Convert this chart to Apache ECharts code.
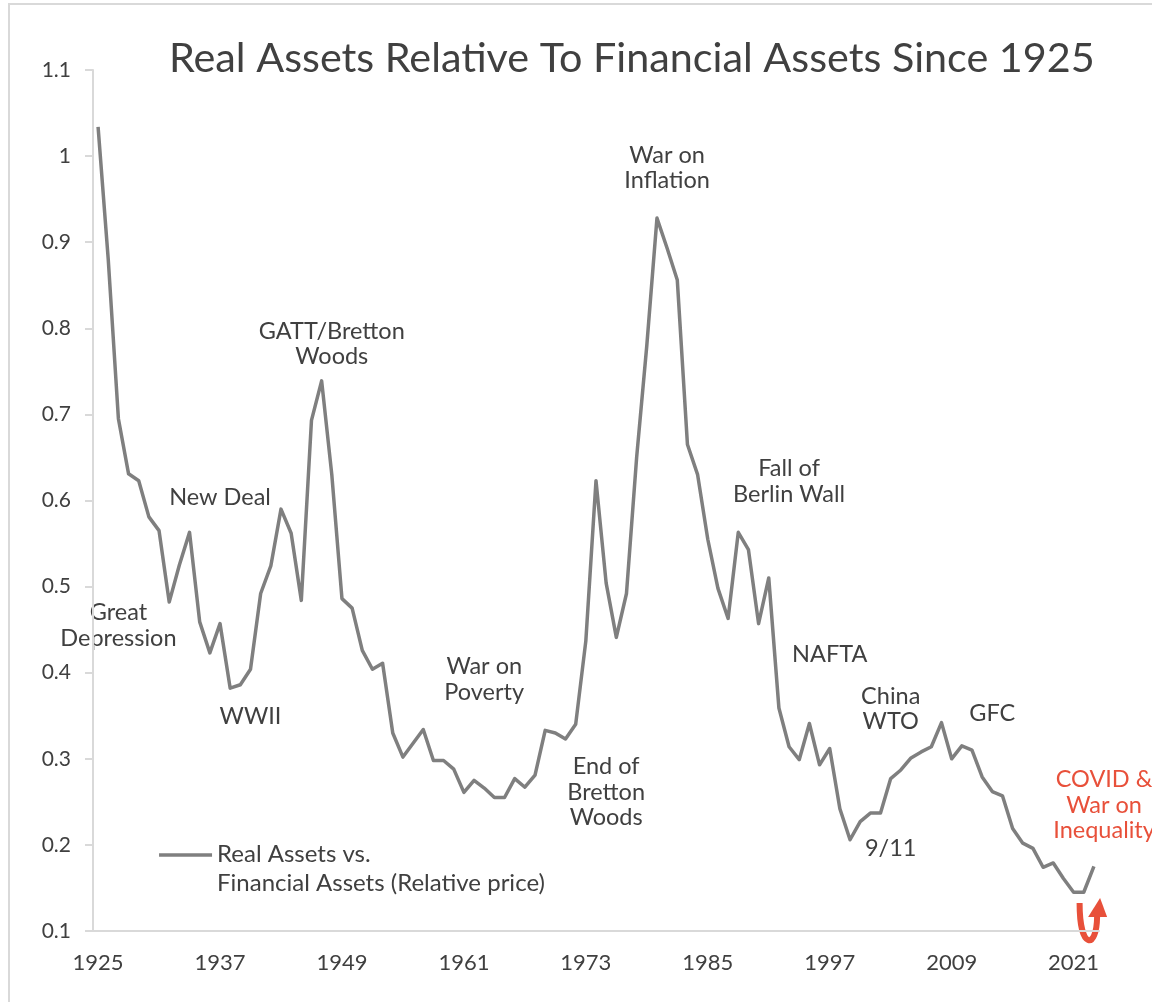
<!DOCTYPE html>
<html>
<head>
<meta charset="utf-8">
<title>Real Assets Relative To Financial Assets Since 1925</title>
<script src="https://cdn.jsdelivr.net/npm/echarts@6/dist/echarts.min.js"></script>
<style>
  html, body { margin: 0; padding: 0; background: #fff; }
  #chart { width: 1152px; height: 1002px; }
</style>
</head>
<body>
<div id="chart"></div>
<script>
// annual observations, 1925 - 2023
const years = [
  '1925', '1926', '1927', '1928', '1929', '1930', '1931', '1932', '1933', '1934',
  '1935', '1936', '1937', '1938', '1939', '1940', '1941', '1942', '1943', '1944',
  '1945', '1946', '1947', '1948', '1949', '1950', '1951', '1952', '1953', '1954',
  '1955', '1956', '1957', '1958', '1959', '1960', '1961', '1962', '1963', '1964',
  '1965', '1966', '1967', '1968', '1969', '1970', '1971', '1972', '1973', '1974',
  '1975', '1976', '1977', '1978', '1979', '1980', '1981', '1982', '1983', '1984',
  '1985', '1986', '1987', '1988', '1989', '1990', '1991', '1992', '1993', '1994',
  '1995', '1996', '1997', '1998', '1999', '2000', '2001', '2002', '2003', '2004',
  '2005', '2006', '2007', '2008', '2009', '2010', '2011', '2012', '2013', '2014',
  '2015', '2016', '2017', '2018', '2019', '2020', '2021', '2022', '2023'
]

// real assets vs financial assets (relative price)
const relativePrice = [
  1.034, 0.880, 0.695, 0.631, 0.623, 0.581, 0.565, 0.482, 0.525, 0.563,
  0.459, 0.423, 0.457, 0.382, 0.386, 0.404, 0.492, 0.524, 0.590, 0.562,
  0.484, 0.693, 0.739, 0.630, 0.486, 0.475, 0.426, 0.404, 0.411, 0.330,
  0.302, 0.318, 0.334, 0.298, 0.298, 0.288, 0.261, 0.275, 0.266, 0.255,
  0.255, 0.277, 0.267, 0.281, 0.333, 0.330, 0.323, 0.340, 0.437, 0.623,
  0.504, 0.441, 0.492, 0.650, 0.780, 0.928, 0.893, 0.856, 0.665, 0.630,
  0.555, 0.498, 0.463, 0.563, 0.543, 0.457, 0.510, 0.359, 0.314, 0.299,
  0.341, 0.293, 0.312, 0.242, 0.206, 0.227, 0.237, 0.237, 0.277, 0.287,
  0.301, 0.308, 0.314, 0.342, 0.300, 0.315, 0.310, 0.279, 0.262, 0.257,
  0.219, 0.202, 0.196, 0.174, 0.179, 0.161, 0.145, 0.145, 0.175
]

// event labels, placed in data space (year, value)
const eventNames = [
  'Great\nDepression', 'New Deal', 'WWII', 'GATT/Bretton\nWoods', 'War on\nPoverty',
  'End of\nBretton\nWoods', 'War on\nInflation', 'Fall of\nBerlin Wall', 'NAFTA',
  'China\nWTO', 'GFC', '9/11', 'COVID &\nWar on\nInequality'
]
const eventYears = [1927.2, 1937.25, 1939.5, 1947.6, 1962.6, 1974.95, 1980.6, 1992.55, 1996.9, 2003.27, 2012.9, 2003.25, 2023.9]
const eventValues = [0.455, 0.603, 0.349, 0.782, 0.392, 0.261, 0.986, 0.622, 0.421, 0.358, 0.353, 0.196, 0.246]

const seriesName = 'Real Assets vs.\nFinancial Assets (Relative price)'
const FONT = 'Lato, "Open Sans", sans-serif'
const TEXT = '#404040'
const LINE = '#7f7f7f'
const AXIS = '#d9d9d9'
const RED = '#e8503a'

const chart = echarts.init(document.getElementById('chart'))

chart.setOption({
  backgroundColor: '#fff',
  animation: false,
  textStyle: { fontFamily: FONT },
  title: {
    text: 'Real Assets Relative To Financial Assets Since 1925',
    left: 164,
    top: 33,
    textStyle: { color: TEXT, fontSize: 41.3, fontWeight: 'normal', fontFamily: FONT }
  },
  grid: { left: 93, right: 53, top: 70, bottom: 71 },
  xAxis: {
    type: 'category',
    data: years,
    boundaryGap: true,
    axisLine: { lineStyle: { color: AXIS, width: 2 } },
    axisTick: { show: false },
    axisLabel: { interval: 11, color: TEXT, fontSize: 22, margin: 21, fontFamily: FONT },
    splitLine: { show: false }
  },
  yAxis: {
    type: 'value',
    min: 0.1,
    max: 1.1,
    interval: 0.1,
    axisLine: { show: true, lineStyle: { color: AXIS, width: 2 } },
    axisTick: { show: true, length: 8, lineStyle: { color: AXIS, width: 2 } },
    axisLabel: {
      color: TEXT, fontSize: 21, margin: 22, fontFamily: FONT,
      formatter: v => String(Math.round(v * 10) / 10)
    },
    splitLine: { show: false }
  },
  series: [{
    name: seriesName,
    type: 'line',
    data: relativePrice,
    symbol: 'none',
    lineStyle: { color: LINE, width: 3.5, join: 'round' },
    itemStyle: { color: LINE }
  }]
})

// annotations + legend + frame, positioned via the chart's own scales
function px(year, value) {
  return chart.convertToPixel({ xAxisIndex: 0, yAxisIndex: 0 }, [year - 1925, value])
}

const graphics = []

// outer frame (top / left edges visible)
graphics.push({
  type: 'rect', silent: true,
  shape: { x: 9, y: 4, width: 1200, height: 1100 },
  style: { fill: 'none', stroke: AXIS, lineWidth: 2 }
})

eventNames.forEach((name, i) => {
  const [x, y] = px(eventYears[i], eventValues[i])
  const isRed = name.startsWith('COVID')
  graphics.push({
    type: 'text', silent: true, x, y,
    style: {
      text: name, fill: isRed ? RED : TEXT,
      font: '23.5px ' + FONT, lineHeight: 25.5,
      align: 'center', verticalAlign: 'middle'
    }
  })
})

// legend
const [lx, ly] = px(1930.5, 0.2)
graphics.push({
  type: 'line', silent: true,
  shape: { x1: lx, y1: ly + 10, x2: lx + 53, y2: ly + 10 },
  style: { stroke: LINE, lineWidth: 3.5 }
})
graphics.push({
  type: 'text', silent: true, x: lx + 58, y: ly - 5,
  style: { text: seriesName, fill: TEXT, font: '24px ' + FONT, lineHeight: 29, align: 'left', verticalAlign: 'top' }
})

// red U-turn arrow below the 2021-2022 trough
const [ax, ay] = px(2021, 0.1)
graphics.push({
  type: 'bezierCurve', silent: true,
  shape: { x1: ax + 6, y1: ay - 28, cpx1: ax + 6, cpy1: ay + 19, cpx2: ax + 23, cpy2: ay + 19, x2: ax + 23.5, y2: ay - 14 },
  style: { stroke: RED, lineWidth: 6, fill: 'none' }
})
graphics.push({
  type: 'polygon', silent: true,
  shape: { points: [[ax + 26.5, ay - 33], [ax + 14.5, ay - 14], [ax + 33.5, ay - 14]] },
  style: { fill: RED }
})

chart.setOption({ graphic: graphics })
</script>
</body>
</html>
